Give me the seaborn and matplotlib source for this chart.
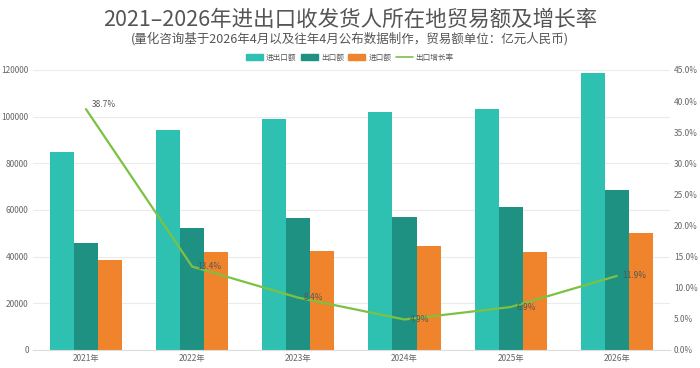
import numpy as np
import pandas as pd
import seaborn as sns
import matplotlib.pyplot as plt
from matplotlib.ticker import FuncFormatter

sns.set_style("white")
plt.rcParams['font.family'] = ['Noto Sans CJK SC', 'DejaVu Sans']

# data (亿元人民币)
years = ["2021年", "2022年", "2023年", "2024年", "2025年", "2026年"]
total = [85000, 94300, 99000, 102000, 103300, 118700]
exports = [46000, 52300, 56600, 57100, 61300, 68600]
imports = [38700, 42000, 42400, 44600, 42000, 50100]
export_growth = [38.7, 13.4, 8.4, 4.9, 6.9, 11.9]
series = ["进出口额", "出口额", "进口额"]
line_name = "出口增长率"

colors = ["#2ec1b2", "#1f9183", "#f0842c"]
line_color = "#7cc142"

df = pd.DataFrame({"年份": years * 3,
                   "金额": total + exports + imports,
                   "类别": [s for s in series for _ in years]})

fig = plt.figure(figsize=(7, 3.68), dpi=100)
ax = fig.add_axes([0.047, 0.049, 0.91, 0.761])

sns.barplot(data=df, x="年份", y="金额", hue="类别", palette=colors,
            width=0.68, saturation=1, linewidth=0, ax=ax, legend=False)

ax.set_ylim(0, 120000)
ax.set_yticks(range(0, 120001, 20000))
ax.set_xlim(-0.5, 5.5)
ax.set_xlabel("")
ax.set_ylabel("")
ax.grid(axis="y", color="#ebebeb", linewidth=0.8)
ax.set_axisbelow(True)
for s in ["top", "right", "left"]:
    ax.spines[s].set_visible(False)
ax.spines["bottom"].set_color("#dddddd")
ax.tick_params(axis="both", length=0, labelsize=6, colors="#666666", pad=3)

ax2 = ax.twinx()
sns.lineplot(x=list(range(len(years))), y=export_growth, color=line_color,
             linewidth=1.6, ax=ax2)
ax2.set_ylim(0, 45)
ax2.set_yticks(range(0, 46, 5))
ax2.yaxis.set_major_formatter(FuncFormatter(lambda v, p: f"{v:.1f}%"))
for s in ["top", "right", "left", "bottom"]:
    ax2.spines[s].set_visible(False)
ax2.tick_params(axis="y", length=0, labelsize=6, colors="#666666", pad=3)

for i, v in enumerate(export_growth):
    dy = 3 if i == 0 else 0
    ax2.annotate(f"{v}%", (i, v), xytext=(4, dy), textcoords="offset points",
                 fontsize=6, color="#555555", va="center")

handles = [plt.Rectangle((0, 0), 1, 1, color=c) for c in colors]
handles.append(plt.Line2D([], [], color=line_color, linewidth=1.2))
fig.legend(handles, series + [line_name], loc="center", ncol=4,
           bbox_to_anchor=(0.5, 0.843), frameon=False, fontsize=5.5,
           handlelength=2.2, handleheight=0.9, handletextpad=0.4,
           columnspacing=0.6, labelcolor="#555555")

fig.text(0.5, 0.945, "2021–2026年进出口收发货人所在地贸易额及增长率",
         ha="center", va="center", fontsize=15.5, color="#555555")
fig.text(0.5, 0.895, "(量化咨询基于2026年4月以及往年4月公布数据制作，贸易额单位：亿元人民币)",
         ha="center", va="center", fontsize=9, color="#555555")

fig.savefig("out.png", dpi=100)
